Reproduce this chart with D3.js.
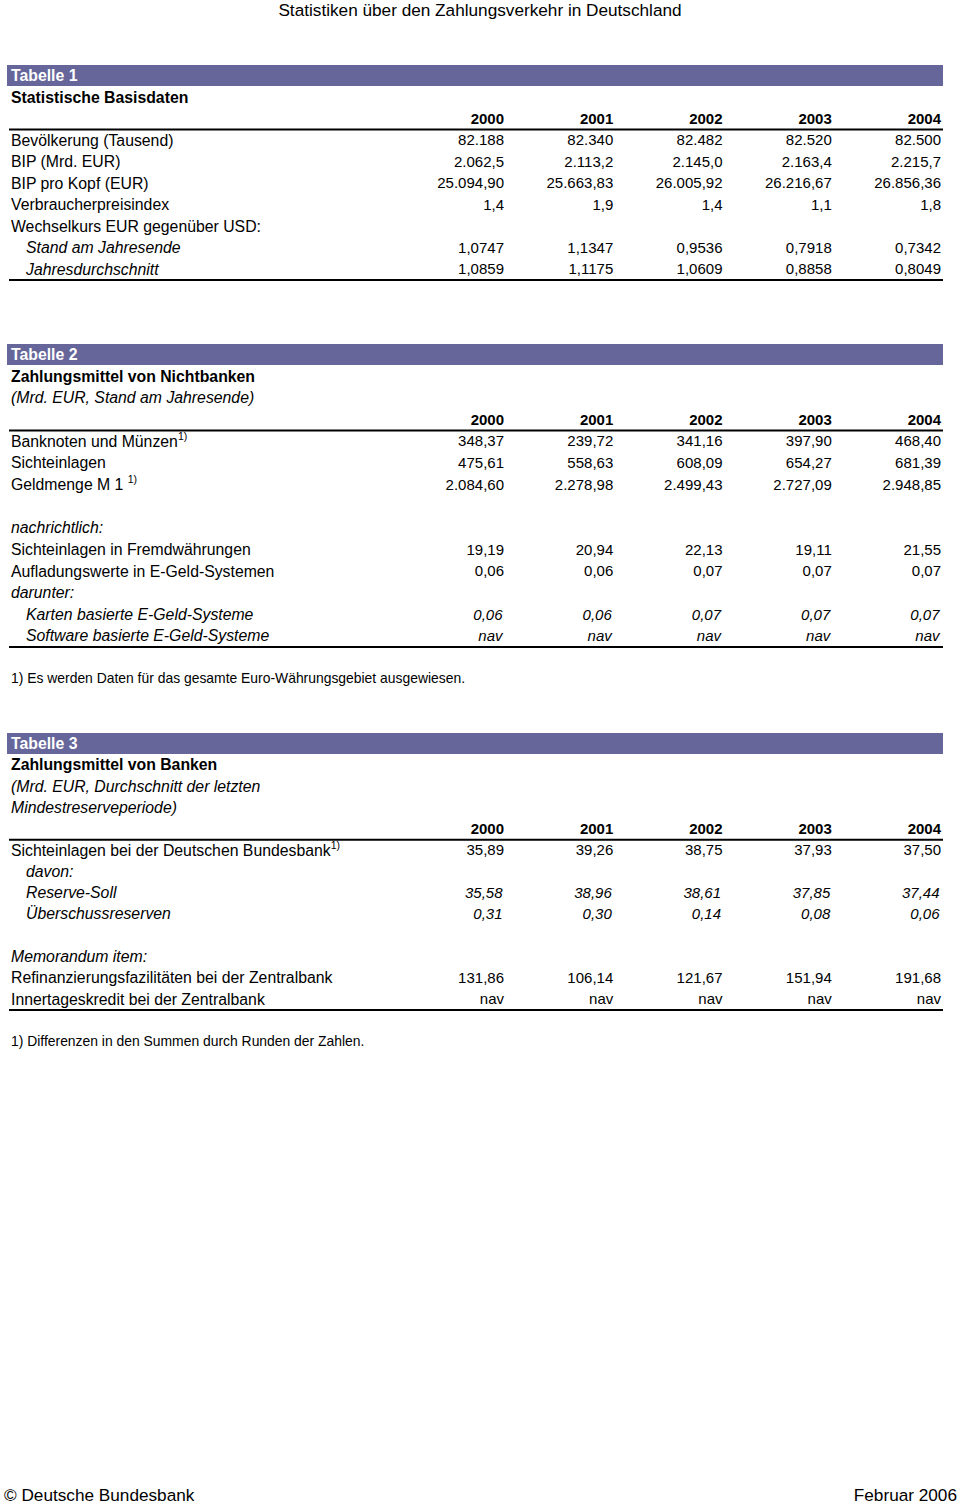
<!DOCTYPE html>
<html>
<head>
<meta charset="utf-8">
<script src="https://cdn.jsdelivr.net/npm/d3@7"></script>
<style>
body { margin: 0; background: #fff; }
svg text { font-family: "Liberation Sans", Arial, sans-serif; fill: #000; }
</style>
</head>
<body>
<div class="sheet"></div>
<script>
var years = ["2000", "2001", "2002", "2003", "2004"];

// Tabelle 1
var t1Labels = ["Bevölkerung (Tausend)", "BIP (Mrd. EUR)", "BIP pro Kopf (EUR)", "Verbraucherpreisindex",
	"Wechselkurs EUR gegenüber USD:", "Stand am Jahresende", "Jahresdurchschnitt"];
var t1Values = [
	[82188, 82340, 82482, 82520, 82500],
	[2062.5, 2113.2, 2145.0, 2163.4, 2215.7],
	[25094.90, 25663.83, 26005.92, 26216.67, 26856.36],
	[1.4, 1.9, 1.4, 1.1, 1.8],
	null,
	[1.0747, 1.1347, 0.9536, 0.7918, 0.7342],
	[1.0859, 1.1175, 1.0609, 0.8858, 0.8049]
];

// Tabelle 2
var t2Labels = ["Banknoten und Münzen^1)", "Sichteinlagen", "Geldmenge M 1 ^1)", "", "nachrichtlich:",
	"Sichteinlagen in Fremdwährungen", "Aufladungswerte in E-Geld-Systemen", "darunter:",
	"Karten basierte E-Geld-Systeme", "Software basierte E-Geld-Systeme"];
var t2Values = [
	[348.37, 239.72, 341.16, 397.90, 468.40],
	[475.61, 558.63, 608.09, 654.27, 681.39],
	[2084.60, 2278.98, 2499.43, 2727.09, 2948.85],
	null,
	null,
	[19.19, 20.94, 22.13, 19.11, 21.55],
	[0.06, 0.06, 0.07, 0.07, 0.07],
	null,
	[0.06, 0.06, 0.07, 0.07, 0.07],
	["nav", "nav", "nav", "nav", "nav"]
];

// Tabelle 3
var t3Labels = ["Sichteinlagen bei der Deutschen Bundesbank^1)", "davon:", "Reserve-Soll", "Überschussreserven", "",
	"Memorandum item:", "Refinanzierungsfazilitäten bei der Zentralbank", "Innertageskredit bei der Zentralbank"];
var t3Values = [
	[35.89, 39.26, 38.75, 37.93, 37.50],
	null,
	[35.58, 38.96, 38.61, 37.85, 37.44],
	[0.31, 0.30, 0.14, 0.08, 0.06],
	null,
	null,
	[131.86, 106.14, 121.67, 151.94, 191.68],
	["nav", "nav", "nav", "nav", "nav"]
];

var de = d3.formatLocale({decimal: ",", thousands: ".", grouping: [3], currency: ["", " €"]});

var W = 960, H = 1504,
	left = 9, right = 943,
	labelX = 11, indentX = 26,
	labelSize = 15.8,
	numSize = 15;

var svg = d3.select("div.sheet")
	.append("svg")
	.attr("width", W)
	.attr("height", H);

var xCol = d3.scalePoint()
	.domain(years)
	.range([504, 941]);

/*
========== page header / footer ==========
*/
svg.append("text")
	.attr("x", W / 2)
	.attr("y", 15.5)
	.attr("text-anchor", "middle")
	.style("font-size", "17.2px")
	.text("Statistiken über den Zahlungsverkehr in Deutschland");

svg.append("text")
	.attr("x", 4)
	.attr("y", 1501)
	.style("font-size", "17.2px")
	.text("© Deutsche Bundesbank");

svg.append("text")
	.attr("x", 957)
	.attr("y", 1501)
	.attr("text-anchor", "end")
	.style("font-size", "17.2px")
	.text("Februar 2006");

function addLabel(g, x, y, label, italic, bold){
	var parts = label.split("^");
	var t = g.append("text")
		.attr("x", x)
		.attr("y", y)
		.attr("dy", "0.35em")
		.style("font-size", labelSize + "px")
		.style("font-style", italic ? "italic" : "normal")
		.style("font-weight", bold ? "bold" : "normal");
	t.append("tspan").text(parts[0]);
	if (parts.length > 1){
		t.append("tspan")
			.attr("dy", "-7")
			.style("font-size", "10.5px")
			.text(parts[1]);
	}
	return t;
}

/*
========== one table ==========
*/
function drawTable(cfg){
	var g = svg.append("g").attr("class", "table");
	var yRow = d3.scaleLinear()
		.domain([0, 1])
		.range([cfg.bandY + 10.5, cfg.bandY + 10.5 + cfg.step]);

	g.append("rect")
		.attr("x", left - 2)
		.attr("y", cfg.bandY)
		.attr("width", right - left + 2)
		.attr("height", 21)
		.attr("fill", "#66669a");

	g.append("text")
		.attr("x", labelX)
		.attr("y", yRow(0))
		.attr("dy", "0.35em")
		.style("font-size", labelSize + "px")
		.style("font-weight", "bold")
		.style("fill", "#fff")
		.text(cfg.name);

	cfg.titles.forEach(function(t, i){
		addLabel(g, labelX, yRow(i + 1), t, i > 0, i == 0);
	});

	var yearRow = cfg.titles.length + 1;
	g.selectAll("text.year")
		.data(years)
		.enter()
		.append("text")
		.attr("class", "year")
		.attr("x", function(d){ return xCol(d); })
		.attr("y", yRow(yearRow))
		.attr("dy", "0.35em")
		.attr("text-anchor", "end")
		.style("font-size", numSize + "px")
		.style("font-weight", "bold")
		.text(function(d){ return d; });

	g.append("line")
		.attr("x1", left).attr("x2", right)
		.attr("y1", yRow(yearRow) + 11).attr("y2", yRow(yearRow) + 11)
		.attr("stroke", "#000")
		.attr("stroke-width", 2);

	cfg.labels.forEach(function(lab, i){
		var y = yRow(yearRow + 1 + i);
		var italic = cfg.italic.indexOf(i) >= 0;
		var indent = cfg.indent.indexOf(i) >= 0;
		var valItalic = cfg.valItalic.indexOf(i) >= 0;
		if (lab) addLabel(g, indent ? indentX : labelX, y, lab, italic, false);
		var vals = cfg.values[i];
		if (!vals) return;
		g.selectAll(null)
			.data(vals)
			.enter()
			.append("text")
			.attr("x", function(d, j){ return xCol(years[j]) - (valItalic ? 1.5 : 0); })
			.attr("y", y)
			.attr("dy", "0.35em")
			.attr("text-anchor", "end")
			.style("font-size", numSize + "px")
			.style("font-style", valItalic ? "italic" : "normal")
			.text(function(d){ return typeof d == "string" ? d : de.format(cfg.formats[i])(d); });
	});

	var last = yRow(yearRow + cfg.labels.length);
	g.append("line")
		.attr("x1", left).attr("x2", right)
		.attr("y1", last + 11).attr("y2", last + 11)
		.attr("stroke", "#000")
		.attr("stroke-width", 2);

	if (cfg.footnote){
		g.append("text")
			.attr("x", labelX)
			.attr("y", last + 42)
			.attr("dy", "0.35em")
			.style("font-size", "13.9px")
			.text(cfg.footnote);
	}
}

drawTable({
	name: "Tabelle 1",
	bandY: 65,
	step: 21.5,
	titles: ["Statistische Basisdaten"],
	labels: t1Labels,
	values: t1Values,
	formats: [",.0f", ",.1f", ",.2f", ",.1f", "", ",.4f", ",.4f"],
	italic: [5, 6],
	indent: [5, 6],
	valItalic: []
});

drawTable({
	name: "Tabelle 2",
	bandY: 344,
	step: 21.65,
	titles: ["Zahlungsmittel von Nichtbanken", "(Mrd. EUR, Stand am Jahresende)"],
	labels: t2Labels,
	values: t2Values,
	formats: [",.2f", ",.2f", ",.2f", "", "", ",.2f", ",.2f", "", ",.2f", ""],
	italic: [4, 7, 8, 9],
	indent: [8, 9],
	valItalic: [8, 9],
	footnote: "1) Es werden Daten für das gesamte Euro-Währungsgebiet ausgewiesen."
});

drawTable({
	name: "Tabelle 3",
	bandY: 733,
	step: 21.3,
	titles: ["Zahlungsmittel von Banken", "(Mrd. EUR, Durchschnitt der letzten", "Mindestreserveperiode)"],
	labels: t3Labels,
	values: t3Values,
	formats: [",.2f", "", ",.2f", ",.2f", "", "", ",.2f", ""],
	italic: [1, 2, 3, 5],
	indent: [1, 2, 3],
	valItalic: [2, 3],
	footnote: "1) Differenzen in den Summen durch Runden der Zahlen."
});
</script>
</body>
</html>
